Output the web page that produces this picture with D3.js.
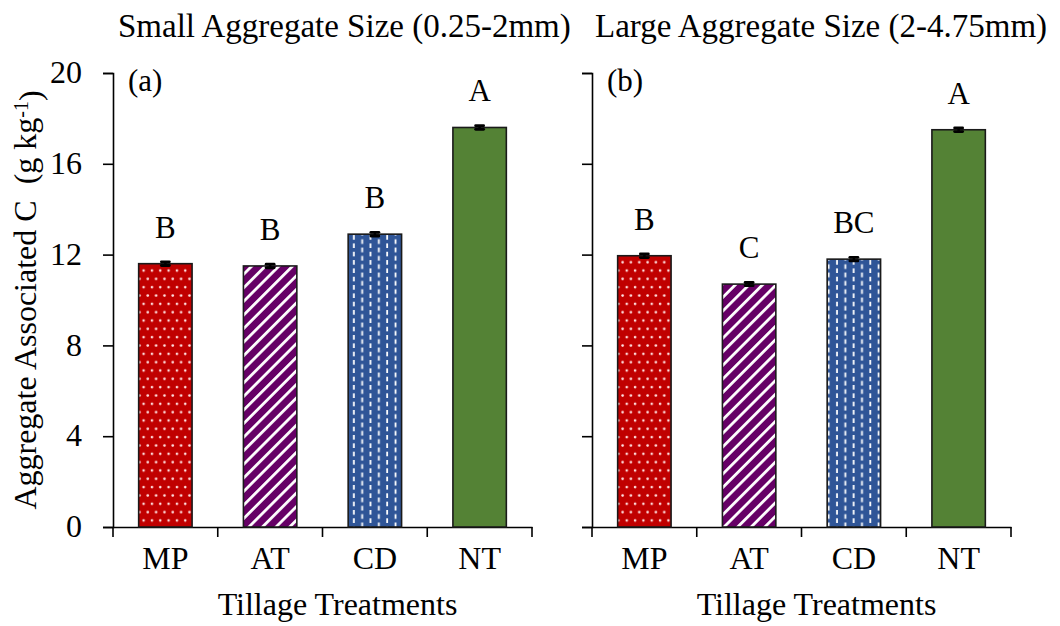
<!DOCTYPE html>
<html>
<head>
<meta charset="utf-8">
<script src="https://cdn.jsdelivr.net/npm/d3@7"></script>
<style>
  html, body { margin: 0; padding: 0; background: #fff; }
  svg { display: block; }
  text { font-family: "Liberation Serif", "Times New Roman", serif; fill: #000; }
</style>
</head>
<body>
<svg id="chart" width="1060" height="626"></svg>
<script>
// ---- data ----
const categories = ["MP", "AT", "CD", "NT"];
const smallValues = [11.6, 11.5, 12.9, 17.6];
const smallErrors = [0.08, 0.08, 0.08, 0.08];
const smallLetters = ["B", "B", "B", "A"];
const largeValues = [11.95, 10.7, 11.8, 17.5];
const largeErrors = [0.08, 0.07, 0.08, 0.08];
const largeLetters = ["B", "C", "BC", "A"];
const yTicks = [0, 4, 8, 12, 16, 20];
const panelTitles = ["Small Aggregate Size (0.25-2mm)", "Large Aggregate Size (2-4.75mm)"];
const panelTags = ["(a)", "(b)"];
const xTitle = "Tillage Treatments";

// ---- drawing ----
const svg = d3.select("#chart");
const defs = svg.append("defs");

// MP: red with white dots
const pMP = defs.append("pattern").attr("id", "pMP").attr("patternUnits", "userSpaceOnUse")
  .attr("width", 8.33).attr("height", 16.66);
pMP.append("rect").attr("width", 8.33).attr("height", 16.66).attr("fill", "#c00000");
pMP.append("circle").attr("cx", 2).attr("cy", 4).attr("r", 1.3).attr("fill", "#ffe0e0");
pMP.append("circle").attr("cx", 6.17).attr("cy", 12.33).attr("r", 1.3).attr("fill", "#ffe0e0");

// AT: purple diagonal stripes
const pAT = defs.append("pattern").attr("id", "pAT").attr("patternUnits", "userSpaceOnUse")
  .attr("width", 9.6).attr("height", 9.6).attr("patternTransform", "rotate(45)");
pAT.append("rect").attr("width", 9.6).attr("height", 9.6).attr("fill", "#660066");
pAT.append("rect").attr("x", 0).attr("width", 2.8).attr("height", 9.6).attr("fill", "#ffffff");

// CD: blue with short white vertical dashes
const pCD = defs.append("pattern").attr("id", "pCD").attr("patternUnits", "userSpaceOnUse")
  .attr("width", 16.66).attr("height", 8.33);
pCD.append("rect").attr("width", 16.66).attr("height", 8.33).attr("fill", "#2f5597");
pCD.append("line").attr("x1", 4).attr("x2", 4).attr("y1", 1.8).attr("y2", 6.5)
  .attr("stroke", "#ffffff").attr("stroke-width", 1.8);
pCD.append("line").attr("x1", 12.33).attr("x2", 12.33).attr("y1", -2.3).attr("y2", 2.4)
  .attr("stroke", "#ffffff").attr("stroke-width", 1.8);
pCD.append("line").attr("x1", 12.33).attr("x2", 12.33).attr("y1", 6.03).attr("y2", 10.73)
  .attr("stroke", "#ffffff").attr("stroke-width", 1.8);

const fills = ["url(#pMP)", "url(#pAT)", "url(#pCD)", "#548235"];

const y = d3.scaleLinear().domain([0, 20]).range([527, 73]);

const panels = [
  { x0: 113, x1: 532, values: smallValues, errors: smallErrors, letters: smallLetters, showLabels: true },
  { x0: 592, x1: 1011, values: largeValues, errors: largeErrors, letters: largeLetters, showLabels: false }
];

panels.forEach((p, pi) => {
  const x = d3.scaleBand().domain(categories).range([p.x0, p.x1])
    .paddingInner(0.49).paddingOuter(0.245);
  const g = svg.append("g");

  // y axis
  const yAxis = d3.axisLeft(y).tickValues(yTicks).tickSize(10).tickPadding(21)
    .tickFormat(p.showLabels ? d3.format("d") : () => "");
  const ya = g.append("g").attr("transform", `translate(${p.x0},0)`).call(yAxis);
  ya.select(".domain").attr("stroke", "#000").attr("stroke-width", 1.6);
  ya.selectAll(".tick line").attr("stroke", "#000").attr("stroke-width", 1.6);
  ya.selectAll(".tick text").style("font-size", "32px").attr("dy", "0.3em");

  // x axis (category boundary ticks, labels centred)
  const xAxis = d3.axisBottom(x).tickSize(0).tickPadding(30);
  const xa = g.append("g").attr("transform", `translate(0,${y(0)})`).call(xAxis);
  xa.select(".domain").attr("stroke", "#000").attr("stroke-width", 1.6);
  xa.selectAll(".tick text").style("font-size", "32px").attr("dy", "0.71em").attr("y", 19);
  const bounds = d3.range(categories.length + 1).map(i => p.x0 + i * x.step());
  g.selectAll("line.xb").data(bounds).join("line").attr("class", "xb")
    .attr("x1", d => d).attr("x2", d => d)
    .attr("y1", y(0)).attr("y2", y(0) + 10)
    .attr("stroke", "#000").attr("stroke-width", 1.6);

  // bars
  g.selectAll("rect.bar").data(p.values).join("rect").attr("class", "bar")
    .attr("x", (d, i) => x(categories[i]))
    .attr("width", x.bandwidth())
    .attr("y", d => y(d))
    .attr("height", d => y(0) - y(d))
    .attr("fill", (d, i) => fills[i])
    .attr("stroke", "#1a1a1a").attr("stroke-width", 1.6);

  // error bars
  p.values.forEach((v, i) => {
    const cx = x(categories[i]) + x.bandwidth() / 2;
    const e = p.errors[i];
    g.append("line").attr("x1", cx).attr("x2", cx).attr("y1", y(v - e)).attr("y2", y(v + e))
      .attr("stroke", "#000").attr("stroke-width", 2.5);
    [v - e, v + e].forEach(t => {
      g.append("line").attr("x1", cx - 4).attr("x2", cx + 4).attr("y1", y(t)).attr("y2", y(t))
        .attr("stroke", "#000").attr("stroke-width", 2.8).attr("stroke-linecap", "round");
    });
  });

  // significance letters
  g.selectAll("text.sig").data(p.letters).join("text").attr("class", "sig")
    .attr("x", (d, i) => x(categories[i]) + x.bandwidth() / 2)
    .attr("y", (d, i) => y(p.values[i]) - 26)
    .attr("text-anchor", "middle").style("font-size", "31px")
    .text(d => d);

  // panel tag
  g.append("text").attr("x", p.x0 + 15).attr("y", 91).style("font-size", "31px").text(panelTags[pi]);

  // x title
  g.append("text").attr("x", (p.x0 + p.x1) / 2 + 15).attr("y", 615)
    .attr("text-anchor", "middle").style("font-size", "32px").text(xTitle);
});

// panel titles
svg.append("text").attr("x", 118).attr("y", 37).style("font-size", "33px").text(panelTitles[0]);
svg.append("text").attr("x", 595).attr("y", 37).style("font-size", "33px").text(panelTitles[1]);

// y-axis title
const yt = svg.append("text").attr("transform", "translate(36,300) rotate(-90)")
  .attr("text-anchor", "middle").style("font-size", "32px").style("white-space", "pre");
yt.append("tspan").text("Aggregate Associated C  (g kg");
yt.append("tspan").attr("dy", "-0.4em").style("font-size", "20px").text("-1");
yt.append("tspan").attr("dy", "0.4em").text(")");
</script>
</body>
</html>
